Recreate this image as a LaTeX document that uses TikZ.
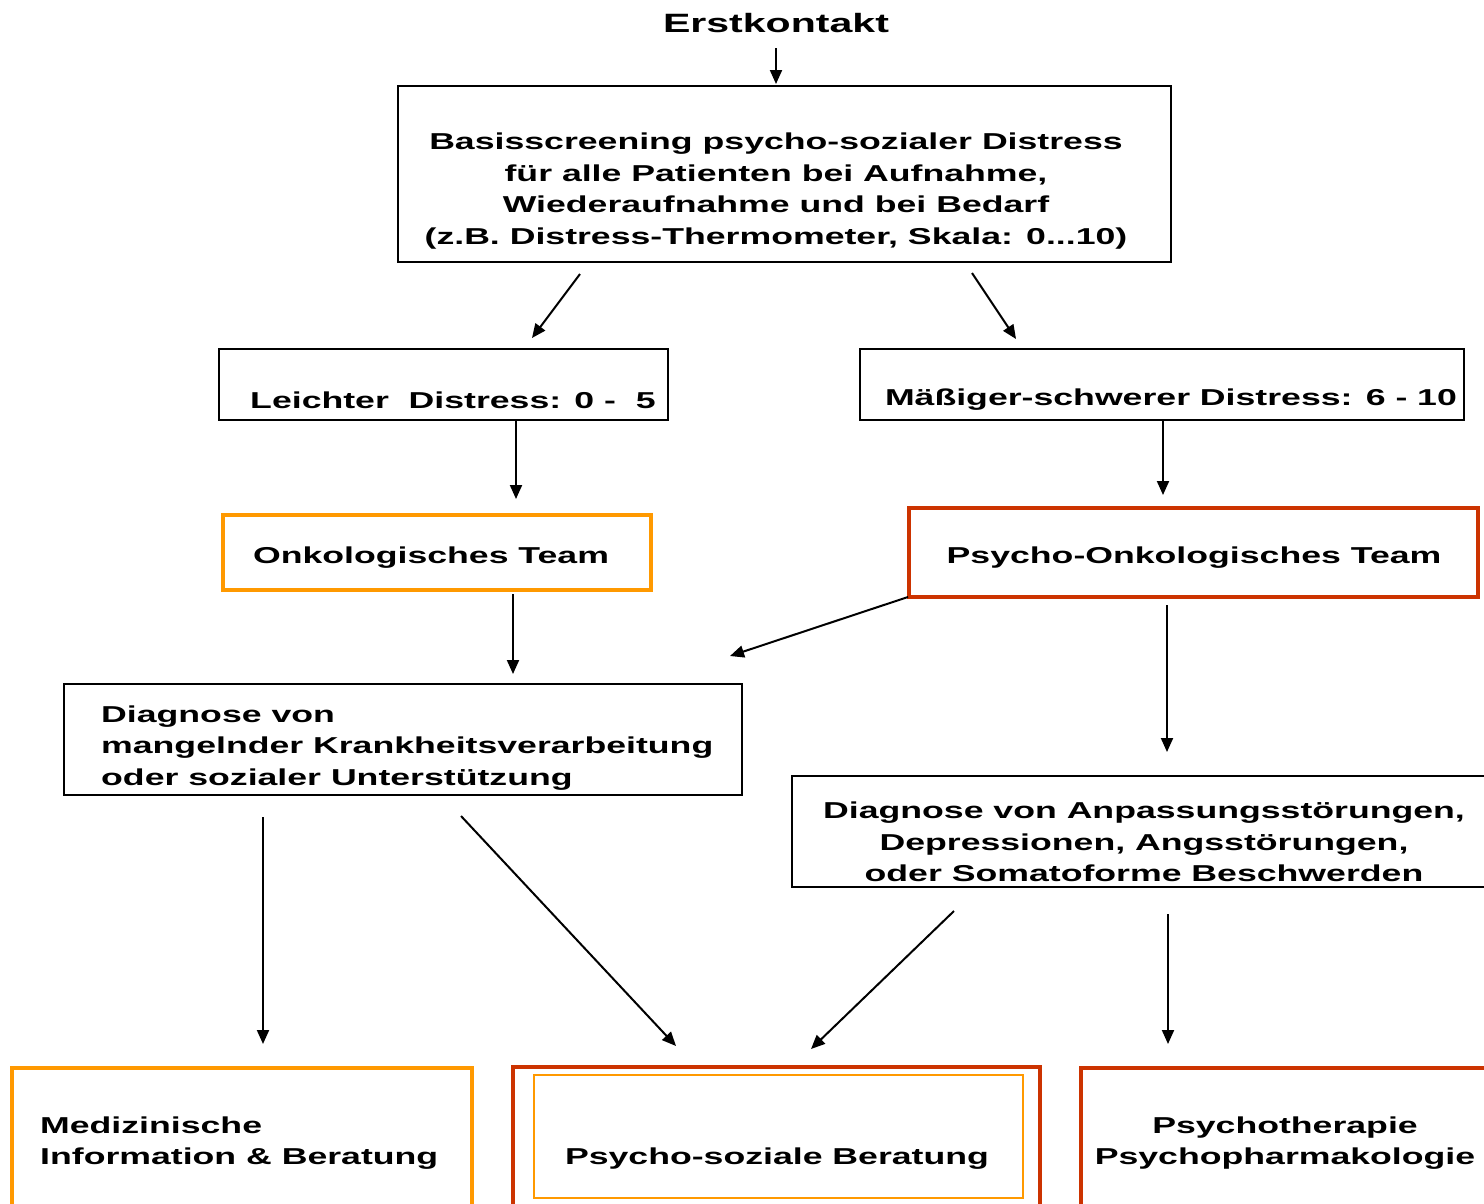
\documentclass[tikz,border=0pt]{standalone}
\usepackage{fontspec}
\newfontfamily\dfont[FakeStretch=1.55]{Liberation Sans}
\usetikzlibrary{arrows.meta}
\definecolor{orng}{HTML}{FF9900}
\definecolor{rust}{HTML}{CC3300}
\begin{document}
\begin{tikzpicture}[x=1pt,y=-1pt,
  boxbase/.style={inner sep=0pt,anchor=north west},
  blackbox/.style={boxbase,draw=black,line width=2pt},
  orangebox/.style={boxbase,draw=orng,line width=3.5pt},
  redbox/.style={boxbase,draw=rust,line width=3.5pt},
  txt/.style={font=\dfont\bfseries\fontsize{23}{31.5}\selectfont,inner sep=0pt,align=center},
  ltxt/.style={txt,align=left,anchor=west},
  arr/.style={line width=2pt,-{Triangle[length=14pt,width=12pt]}}]
\useasboundingbox (0,0) rectangle (1484,1203);
\clip (0,0) rectangle (1484,1203);

% title
\node[txt,font=\dfont\bfseries\fontsize{26.5}{30}\selectfont] (title) at (776,23) {Erstkontakt};

% boxes
\node[blackbox,minimum width=773pt,minimum height=176pt] (basis) at (397,85) {};
\node[blackbox,minimum width=449pt,minimum height=71pt] (leicht) at (218,348) {};
\node[blackbox,minimum width=604pt,minimum height=71pt] (maessig) at (859,348) {};
\node[orangebox,minimum width=428pt,minimum height=75pt] (onko) at (221,513) {};
\node[redbox,minimum width=569pt,minimum height=89pt] (psyonko) at (907,506) {};
\node[blackbox,minimum width=678pt,minimum height=111pt] (diag1) at (63,683) {};
\node[blackbox,minimum width=720pt,minimum height=111pt] (diag2) at (791,775) {};
\node[orangebox,minimum width=460pt,minimum height=160pt] (med) at (10,1066) {};
\node[redbox,minimum width=527pt,minimum height=160pt] (psb) at (511,1065) {};
\node[boxbase,draw=orng,line width=2pt,minimum width=489pt,minimum height=123pt] (psbin) at (533,1074) {};
\node[redbox,minimum width=430pt,minimum height=160pt] (pp) at (1079,1066) {};

% texts
\node[txt] (basisT) at (776,191) {Basisscreening psycho-sozialer Distress\\für alle Patienten bei Aufnahme,\\Wiederaufnahme und bei Bedarf\\(z.B. Distress-Thermometer, Skala: 0...10)};
\node[txt] (leichtT) at (453,400) {Leichter\ \ Distress: 0 -\ \ 5};
\node[txt] (maessigT) at (1171,400) {Mäßiger-schwerer Distress: 6 - 10};
\node[txt] (onkoT) at (431,558) {Onkologisches Team};
\node[txt] (psyonkoT) at (1194,558) {Psycho-Onkologisches Team};
\node[ltxt] (diag1T) at (101,748) {Diagnose von\\mangelnder Krankheitsverarbeitung\\oder sozialer Unterstützung};
\node[txt] (diag2T) at (1144,842) {Diagnose von Anpassungsstörungen,\\Depressionen, Angsstörungen,\\oder Somatoforme Beschwerden};
\node[ltxt] (medT) at (40,1143) {Medizinische\\Information \& Beratung};
\node[txt] (psbT) at (777,1159) {Psycho-soziale Beratung};
\node[txt] (ppT) at (1285,1143) {Psychotherapie\\Psychopharmakologie};

% arrow end points
\coordinate (a1s) at (776,48);   \coordinate (a1e) at (776,84);
\coordinate (a2s) at (580,274);  \coordinate (a2e) at (532,338);
\coordinate (a3s) at (972,273);  \coordinate (a3e) at (1016,339);
\coordinate (a4s) at (516,420);  \coordinate (a4e) at (516,499);
\coordinate (a5s) at (1163,420); \coordinate (a5e) at (1163,495);
\coordinate (a6s) at (513,594);  \coordinate (a6e) at (513,674);
\coordinate (a7s) at (908,597);  \coordinate (a7e) at (730,656);
\coordinate (a8s) at (1167,605); \coordinate (a8e) at (1167,752);
\coordinate (a9s) at (263,817);  \coordinate (a9e) at (263,1044);
\coordinate (a10s) at (461,816); \coordinate (a10e) at (676,1046);
\coordinate (a11s) at (954,911); \coordinate (a11e) at (811,1049);
\coordinate (a12s) at (1168,914); \coordinate (a12e) at (1168,1044);

\draw[arr] (a1s) -- (a1e);
\draw[arr] (a2s) -- (a2e);
\draw[arr] (a3s) -- (a3e);
\draw[arr] (a4s) -- (a4e);
\draw[arr] (a5s) -- (a5e);
\draw[arr] (a6s) -- (a6e);
\draw[arr] (a7s) -- (a7e);
\draw[arr] (a8s) -- (a8e);
\draw[arr] (a9s) -- (a9e);
\draw[arr] (a10s) -- (a10e);
\draw[arr] (a11s) -- (a11e);
\draw[arr] (a12s) -- (a12e);
\end{tikzpicture}
\end{document}
